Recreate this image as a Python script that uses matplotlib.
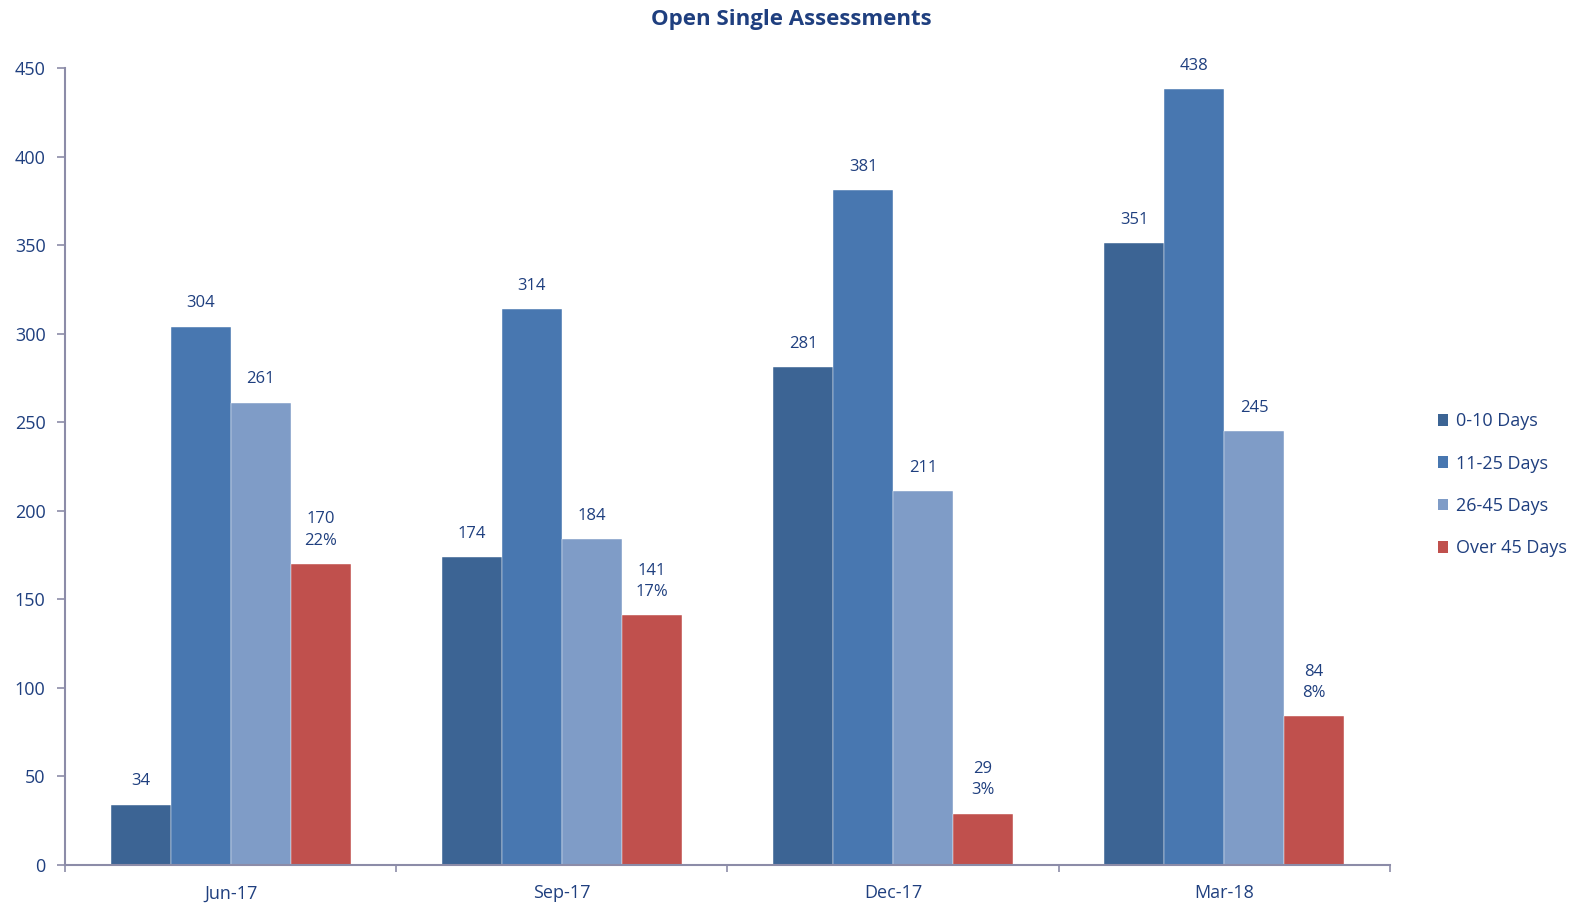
import matplotlib.pyplot as plt
import numpy as np
from matplotlib.patches import Patch

plt.rcParams['font.family'] = ['Open Sans', 'DejaVu Sans']

# data
quarters = ['Jun-17', 'Sep-17', 'Dec-17', 'Mar-18']
series_names = ['0-10 Days', '11-25 Days', '26-45 Days', 'Over 45 Days']
days_0_10 = [34, 174, 281, 351]
days_11_25 = [304, 314, 381, 438]
days_26_45 = [261, 184, 211, 245]
days_over_45 = [170, 141, 29, 84]

colors = ['#3C6494', '#4877B0', '#7F9CC7', '#C0504D']
txt = '#1F3F7F'
axis_col = '#8C8CA8'

fig = plt.figure(figsize=(15.74, 9.06), dpi=100)
ax = fig.add_axes([0.0413, 0.0453, 0.8417, 0.8797])

x = np.arange(len(quarters))
w = 0.181
series = [days_0_10, days_11_25, days_26_45, days_over_45]
totals = np.sum(series, axis=0)

for i, (vals, col) in enumerate(zip(series, colors)):
    pos = x + (i - 1.5) * w
    ax.bar(pos, vals, w, color=col, edgecolor='white', linewidth=0.3, zorder=2)
    for p, v, t in zip(pos, vals, totals):
        if i == 3:
            label = f'{v}\n{round(100 * v / t)}%'
        else:
            label = str(v)
        ax.annotate(label, (p, v), xytext=(0, 11), textcoords='offset points',
                    ha='center', va='bottom', fontsize=12, color=txt, linespacing=1.45)

ax.set_xlim(-0.5, 3.5)
ax.set_ylim(0, 450)
ax.set_yticks(range(0, 451, 50))
ax.set_xticks(x)
ax.set_xticklabels(quarters)
ax.set_xticks(np.arange(-0.5, 3.6, 1), minor=True)
ax.tick_params(axis='x', which='major', length=0, pad=14, labelsize=13, labelcolor=txt)
ax.tick_params(axis='x', which='minor', length=5, color=axis_col, width=1.2)
ax.tick_params(axis='y', length=6, color=axis_col, width=1.2, labelsize=13, labelcolor=txt, pad=8)

for s in ['top', 'right']:
    ax.spines[s].set_visible(False)
for s in ['left', 'bottom']:
    ax.spines[s].set_color(axis_col)
    ax.spines[s].set_linewidth(1.5)

fig.suptitle('Open Single Assessments', x=0.503, y=0.99, fontsize=16,
             fontweight='bold', color=txt)

handles = [Patch(facecolor=c, edgecolor='none') for c in colors]
leg = fig.legend(handles, series_names, loc='center left', bbox_to_anchor=(0.903, 0.465),
                 frameon=False, fontsize=13, handlelength=0.6, handleheight=0.6,
                 handletextpad=0.4, labelspacing=1.35, labelcolor=txt)

fig.savefig('out.png', dpi=100)
